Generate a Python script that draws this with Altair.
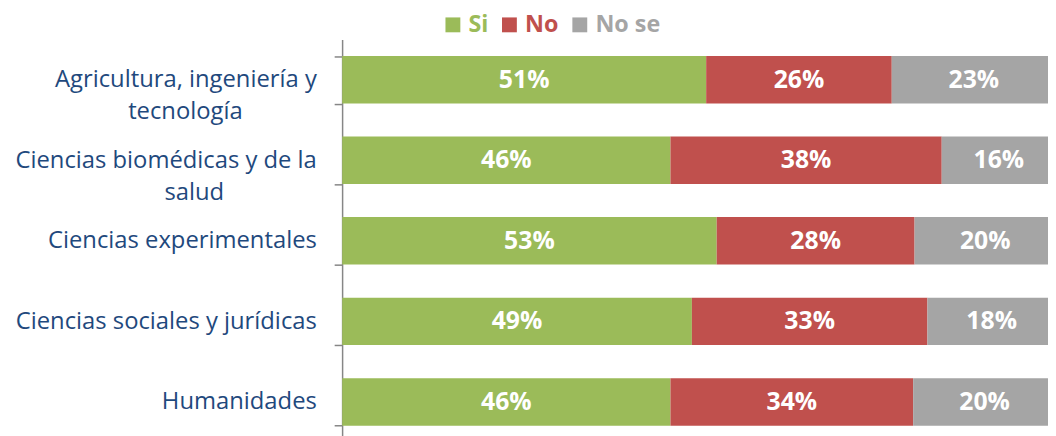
import altair as alt
import pandas as pd

PAD = "\u00a0"
END = "\u200b"
categories = [
    "Agricultura, ingeniería y\ntecnología" + PAD * 12 + END,
    "Ciencias biomédicas y de la\nsalud" + PAD * 15 + END,
    "Ciencias experimentales",
    "Ciencias sociales y jurídicas",
    "Humanidades",
]
responses = ["Si", "No", "No se"]
si_values = [51, 46, 53, 49, 46]
no_values = [26, 38, 28, 33, 34]
nose_values = [23, 16, 20, 18, 20]
colors = ["#9BBB59", "#C0504D", "#A5A5A5"]

rows = []
for i, cat in enumerate(categories):
    for j, (resp, vals) in enumerate(zip(responses, [si_values, no_values, nose_values])):
        rows.append({"categoria": cat, "respuesta": resp, "orden": j, "valor": vals[i]})
df = pd.DataFrame(rows)

FONT = "Open Sans"

base = alt.Chart(df).transform_joinaggregate(
    total="sum(valor)", groupby=["categoria"]
).transform_stack(
    stack="valor", groupby=["categoria"], sort=[alt.SortField("orden")], as_=["s0", "s1"]
).transform_calculate(
    x0="datum.s0 / datum.total",
    x1="datum.s1 / datum.total",
    xm="(datum.s0 + datum.s1) / 2 / datum.total",
    etiqueta="datum.valor + '%'",
)

xscale = alt.Scale(domain=[0, 712 / 720], clamp=True)
yenc = alt.Y(
    "categoria:N",
    sort=categories,
    scale=alt.Scale(paddingInner=0.41, paddingOuter=0.205),
    axis=alt.Axis(
        title=None,
        labelExpr="split(datum.label, '\\n')",
        labelFont=FONT,
        labelFontSize=24,
        labelColor="#1F497D",
        labelLineHeight=32,
        labelPadding=18,
        labelLimit=400,
        tickBand="extent",
        tickSize=8,
        tickColor="#868686",
        tickWidth=1.5,
        domainColor="#868686",
        domainWidth=1.5,
    ),
)

bars = base.mark_bar(clip=True).encode(
    x=alt.X("x0:Q", scale=xscale, axis=None),
    x2="x1:Q",
    y=yenc,
    color=alt.Color(
        "respuesta:N",
        sort=responses,
        scale=alt.Scale(domain=responses, range=colors),
        legend=alt.Legend(
            title=None,
            orient="none",
            direction="horizontal",
            legendX=100,
            legendY=-27,
            symbolType="square",
            symbolSize=225,
            symbolStrokeWidth=0,
            symbolOpacity=1,
            labelFont=FONT,
            labelFontSize=23.5,
            labelFontWeight="bold",
            labelColor={"expr": "datum.label == 'Si' ? '#9BBB59' : datum.label == 'No' ? '#C0504D' : '#A5A5A5'"},
            columnPadding=9,
            labelOffset=4,
        ),
    ),
    order=alt.Order("orden:Q"),
)

labels = base.mark_text(
    font=FONT, fontSize=25, fontWeight="bold", color="white", clip=True
).encode(
    x=alt.X("xm:Q", scale=xscale, axis=None),
    y=alt.Y("categoria:N", sort=categories),
    text="etiqueta:N",
)

chart = alt.layer(bars, labels).properties(
    width=712, height=406, padding={"left": 6, "top": 3, "right": 0, "bottom": 0}
).configure_view(stroke=None)

chart.save("out.html", embed_options={"renderer": "svg", "actions": False})
